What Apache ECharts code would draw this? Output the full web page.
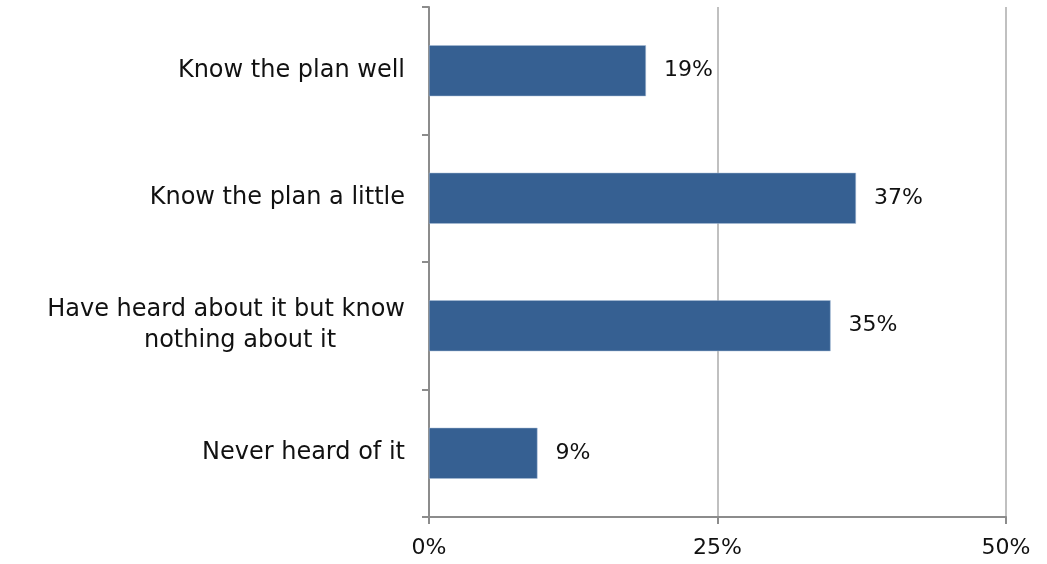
<!DOCTYPE html>
<html><head><meta charset="utf-8">
<script src="https://cdn.jsdelivr.net/npm/echarts@6/dist/echarts.min.js"></script>
<style>html,body{margin:0;padding:0;background:#fff}#c{width:1047px;height:564px}</style>
</head><body><div id="c"></div>
<script>
const categories = ["Know the plan well", "Know the plan a little", "Have heard about it but know\nnothing about it", "Never heard of it"];
const values = [18.8, 37.0, 34.8, 9.4];
const valueLabels = ["19%", "37%", "35%", "9%"];
const xTicks = [0, 25, 50];

const chart = echarts.init(document.getElementById('c'), null, {renderer: 'canvas'});
const font = '"DejaVu Sans", sans-serif';
chart.setOption({
  animation: false,
  grid: {left: 429, right: 41, top: 7, bottom: 47, containLabel: false},
  xAxis: {
    type: 'value', min: xTicks[0], max: xTicks[xTicks.length - 1], interval: 25,
    axisLine: {show: true, lineStyle: {color: '#8c8c8c', width: 2}},
    axisTick: {show: true, length: 7, lineStyle: {color: '#8c8c8c', width: 2}},
    splitLine: {show: true, lineStyle: {color: '#c0c0c0', width: 2}},
    axisLabel: {formatter: '{value}%', color: '#111', fontSize: 22, fontFamily: font, margin: 20}
  },
  yAxis: {
    type: 'category', data: categories, inverse: true,
    axisLine: {show: true, lineStyle: {color: '#8c8c8c', width: 2}},
    axisTick: {show: true, length: 7, alignWithLabel: false, lineStyle: {color: '#8c8c8c', width: 2}},
    axisLabel: {
      color: '#111', fontSize: 24, fontFamily: font, margin: 24, align: 'right', lineHeight: 31,
      formatter: v => v.split('\n').map((s, i) => (i === 0 ? '{c|' : '{d|') + s + '}').join('\n'),
      rich: {
        c: {fontSize: 24, fontFamily: font, color: '#111', lineHeight: 31, align: 'center'},
        d: {fontSize: 24, fontFamily: font, color: '#111', lineHeight: 31, align: 'center', padding: [0, 0, 0, 28]}
      }
    }
  },
  series: [{
    type: 'bar', data: values, barWidth: '40%',
    itemStyle: {color: '#366092', borderColor: '#a9bcd6', borderWidth: 0.5},
    label: {show: true, position: 'right', distance: 18, color: '#111', fontSize: 22, fontFamily: font,
      formatter: p => valueLabels[p.dataIndex]}
  }]
});
</script></body></html>
